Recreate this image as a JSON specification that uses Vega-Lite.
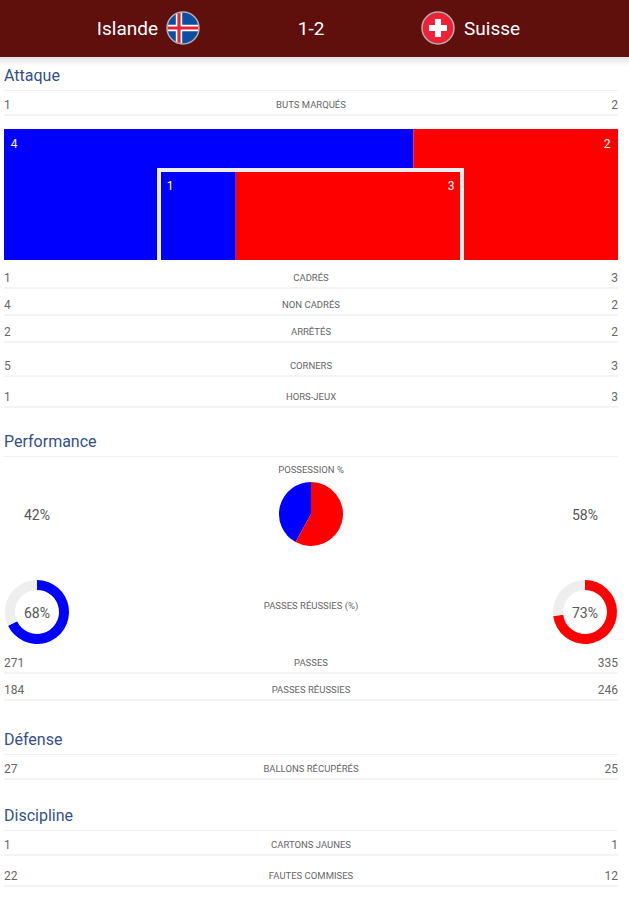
{
  "$schema": "https://vega.github.io/schema/vega-lite/v6.json",
  "autosize": {"type": "fit", "contains": "padding"},
  "padding": 0,
  "width": 629,
  "height": 898,
  "background": "white",
  "config": {
    "axis": {"disable": true},
    "view": {"stroke": null},
    "text": {"font": "Roboto", "dy": 1}
  },
  "datasets": {
    "stats": [
      {"ordre": 5, "stat": "BUTS MARQUÉS", "Islande": "1", "Suisse": "2"},
      {"ordre": 12, "stat": "CADRÉS", "Islande": "1", "Suisse": "3"},
      {"ordre": 13, "stat": "NON CADRÉS", "Islande": "4", "Suisse": "2"},
      {"ordre": 14, "stat": "ARRÊTÉS", "Islande": "2", "Suisse": "2"},
      {"ordre": 15, "stat": "CORNERS", "Islande": "5", "Suisse": "3"},
      {"ordre": 16, "stat": "HORS-JEUX", "Islande": "1", "Suisse": "3"},
      {"ordre": 22, "stat": "PASSES", "Islande": "271", "Suisse": "335"},
      {"ordre": 23, "stat": "PASSES RÉUSSIES", "Islande": "184", "Suisse": "246"},
      {"ordre": 25, "stat": "BALLONS RÉCUPÉRÉS", "Islande": "27", "Suisse": "25"},
      {"ordre": 27, "stat": "CARTONS JAUNES", "Islande": "1", "Suisse": "1"},
      {"ordre": 28, "stat": "FAUTES COMMISES", "Islande": "22", "Suisse": "12"}
    ],
    "sections": [
      {"ordre": 4, "section": "Attaque"},
      {"ordre": 17, "section": "Performance"},
      {"ordre": 24, "section": "Défense"},
      {"ordre": 26, "section": "Discipline"}
    ],
    "flag_parts": [
      {"team": "Islande", "part": "is_disque"},
      {"team": "Islande", "part": "is_blanc"},
      {"team": "Islande", "part": "is_rouge"},
      {"team": "Suisse", "part": "ch_disque"},
      {"team": "Suisse", "part": "ch_croix"}
    ],
    "tirs": [
      {"team": "Islande", "tirs": 4},
      {"team": "Suisse", "tirs": 2}
    ],
    "cadres": [
      {"team": "Islande", "tirs": 1},
      {"team": "Suisse", "tirs": 3}
    ],
    "possession": [
      {"serie": "Islande", "pct": 42},
      {"serie": "Suisse", "pct": 58}
    ],
    "passes_is": [
      {"serie": "Islande", "pct": 68},
      {"serie": "manqué", "pct": 32}
    ],
    "passes_ch": [
      {"serie": "Suisse", "pct": 73},
      {"serie": "manqué", "pct": 27}
    ],
    "pourcentages": [
      {"ordre": 19, "team": "Islande", "label": "42%"},
      {"ordre": 19, "team": "Suisse", "label": "58%"},
      {"ordre": 21, "team": "Islande", "label": "68%"},
      {"ordre": 21, "team": "Suisse", "label": "73%"}
    ],
    "titres_graphiques": [
      {"ordre": 18, "label": "POSSESSION %"},
      {"ordre": 20, "label": "PASSES RÉUSSIES (%)"}
    ]
  },
  "resolve": {"scale": {"x": "independent"}},
  "layer": [
    {
      "data": {"values": [{"zone": "ombre"}]},
      "mark": {
        "type": "rect",
        "fill": {
          "gradient": "linear", "x1": 0, "y1": 0, "x2": 0, "y2": 1,
          "stops": [{"offset": 0, "color": "#e2e2e2"}, {"offset": 1, "color": "#ffffff"}]
        }
      },
      "encoding": {
        "x": {"datum": 0, "type": "quantitative", "scale": {"domain": [0, 1], "range": [0, 629]}},
        "x2": {"datum": 1},
        "y": {
          "datum": 2,
          "type": "quantitative",
          "scale": {
            "domain": [0, 1, 2, 3, 4, 5, 6, 7, 8, 9, 10, 11, 12, 13, 14, 15, 16, 17, 18, 19, 20, 21, 22, 23, 24, 25, 26, 27, 28, 29],
            "range": [0, 28, 57, 66, 75, 104, 129, 143, 168, 172, 185, 260, 277, 304, 331, 365, 396, 441, 469, 514, 605, 612, 662, 689, 739, 768, 815, 844, 875, 898]
          }
        },
        "y2": {"datum": 3}
      }
    },
    {
      "data": {"values": [{"zone": "en-tête"}]},
      "mark": {"type": "rect", "fill": "#5f0f0c"},
      "encoding": {
        "x": {"datum": 0, "type": "quantitative", "scale": {"domain": [0, 1], "range": [0, 629]}},
        "x2": {"datum": 1},
        "y": {"datum": 0, "type": "quantitative"},
        "y2": {"datum": 2}
      }
    },
    {
      "data": {"name": "flag_parts"},
      "mark": {"type": "point", "filled": true, "opacity": 1, "size": 1024, "strokeWidth": 0},
      "encoding": {
        "x": {"field": "team", "type": "nominal", "scale": {"type": "point", "padding": 0, "domain": ["Islande", "Suisse"], "range": [183, 438]}},
        "y": {"datum": 1, "type": "quantitative"},
        "fill": {
          "field": "part",
          "type": "nominal",
          "legend": null,
          "scale": {
            "domain": ["is_disque", "is_blanc", "is_rouge", "ch_disque", "ch_croix"],
            "range": ["#0b4ea2", "#ffffff", "#e3233a", "#ed2236", "#ffffff"]
          }
        },
        "shape": {
          "field": "part",
          "type": "nominal",
          "legend": null,
          "scale": {
            "domain": ["is_disque", "is_blanc", "is_rouge", "ch_disque", "ch_croix"],
            "range": [
              "circle",
              "M-.45,-.89L-.05,-1L-.05,-.2L.98,-.2L.98,.2L-.05,.2L-.05,1L-.45,.89L-.45,.2L-.98,.2L-.98,-.2L-.45,-.2Z",
              "M-.35,-.94L-.15,-.99L-.15,-.1L.99,-.1L.99,.1L-.15,.1L-.15,.99L-.35,.94L-.35,.1L-.99,.1L-.99,-.1L-.35,-.1Z",
              "circle",
              "M-.19,-.56L.19,-.56L.19,-.19L.56,-.19L.56,.19L.19,.19L.19,.56L-.19,.56L-.19,.19L-.56,.19L-.56,-.19L-.19,-.19Z"
            ]
          }
        }
      }
    },
    {
      "data": {"values": [{"team": "Islande"}, {"team": "Suisse"}]},
      "mark": {"type": "point", "filled": false, "opacity": 1, "shape": "circle", "size": 1024, "stroke": "#b0b0b0", "strokeWidth": 1.5},
      "encoding": {
        "x": {"field": "team", "type": "nominal", "scale": {"type": "point", "padding": 0, "domain": ["Islande", "Suisse"], "range": [183, 438]}},
        "y": {"datum": 1, "type": "quantitative"}
      }
    },
    {
      "data": {"values": [{"ordre": 1, "cote": 0, "label": "Islande"}]},
      "mark": {"type": "text", "align": "right", "fontSize": 19, "color": "#ffffff"},
      "encoding": {
        "x": {"field": "cote", "type": "quantitative", "scale": {"domain": [0, 1], "range": [158, 464]}},
        "y": {"field": "ordre", "type": "quantitative"},
        "text": {"field": "label"}
      }
    },
    {
      "data": {"values": [{"ordre": 1, "cote": 0.5, "label": "1-2"}]},
      "mark": {"type": "text", "align": "center", "fontSize": 19, "color": "#ffffff"},
      "encoding": {
        "x": {"field": "cote", "type": "quantitative", "scale": {"domain": [0, 1], "range": [158, 464]}},
        "y": {"field": "ordre", "type": "quantitative"},
        "text": {"field": "label"}
      }
    },
    {
      "data": {"values": [{"ordre": 1, "cote": 1, "label": "Suisse"}]},
      "mark": {"type": "text", "align": "left", "fontSize": 19, "color": "#ffffff"},
      "encoding": {
        "x": {"field": "cote", "type": "quantitative", "scale": {"domain": [0, 1], "range": [158, 464]}},
        "y": {"field": "ordre", "type": "quantitative"},
        "text": {"field": "label"}
      }
    },
    {
      "data": {"name": "sections"},
      "mark": {"type": "text", "align": "left", "fontSize": 16, "color": "#34508a"},
      "encoding": {
        "x": {"datum": 0, "type": "quantitative", "scale": {"domain": [0, 1], "range": [4, 618]}},
        "y": {"field": "ordre", "type": "quantitative"},
        "text": {"field": "section"}
      }
    },
    {
      "data": {"name": "sections"},
      "mark": {"type": "rule", "stroke": "#f0f0f0", "strokeWidth": 1, "yOffset": 15.5},
      "encoding": {
        "x": {"datum": 0, "type": "quantitative", "scale": {"domain": [0, 1], "range": [4, 618]}},
        "x2": {"datum": 1},
        "y": {"field": "ordre", "type": "quantitative"}
      }
    },
    {
      "data": {"name": "stats"},
      "mark": {"type": "rule", "stroke": "#e8e8e8", "strokeWidth": 1, "yOffset": 11},
      "encoding": {
        "x": {"datum": 0, "type": "quantitative", "scale": {"domain": [0, 1], "range": [4, 618]}},
        "x2": {"datum": 1},
        "y": {"field": "ordre", "type": "quantitative"}
      }
    },
    {
      "data": {"name": "stats"},
      "mark": {"type": "text", "align": "left", "fontSize": 12, "color": "#666666"},
      "encoding": {
        "x": {"datum": 0, "type": "quantitative", "scale": {"domain": [0, 1], "range": [4, 618]}},
        "y": {"field": "ordre", "type": "quantitative"},
        "text": {"field": "Islande"}
      }
    },
    {
      "data": {"name": "stats"},
      "mark": {"type": "text", "align": "center", "fontSize": 9.5, "color": "#666666"},
      "encoding": {
        "x": {"datum": 0.5, "type": "quantitative", "scale": {"domain": [0, 1], "range": [4, 618]}},
        "y": {"field": "ordre", "type": "quantitative"},
        "text": {"field": "stat"}
      }
    },
    {
      "data": {"name": "stats"},
      "mark": {"type": "text", "align": "right", "fontSize": 12, "color": "#666666"},
      "encoding": {
        "x": {"datum": 1, "type": "quantitative", "scale": {"domain": [0, 1], "range": [4, 618]}},
        "y": {"field": "ordre", "type": "quantitative"},
        "text": {"field": "Suisse"}
      }
    },
    {
      "data": {"name": "tirs"},
      "transform": [{"stack": "tirs", "groupby": [], "sort": [{"field": "team"}], "as": ["debut", "fin"]}],
      "mark": {"type": "rect"},
      "encoding": {
        "x": {"field": "debut", "type": "quantitative", "scale": {"domain": [0, 6], "range": [4, 618]}},
        "x2": {"field": "fin"},
        "y": {"datum": 6, "type": "quantitative"},
        "y2": {"datum": 11},
        "color": {"field": "team", "type": "nominal", "legend": null, "scale": {"domain": ["Islande", "Suisse", "manqué"], "range": ["#0000ff", "#ff0000", "#eeeeee"]}}
      }
    },
    {
      "data": {"values": [{"zone": "cadre"}]},
      "mark": {"type": "rect", "fill": "#eeeeee"},
      "encoding": {
        "x": {"datum": 0, "type": "quantitative", "scale": {"domain": [0, 1], "range": [157, 464]}},
        "x2": {"datum": 1},
        "y": {"datum": 8, "type": "quantitative"},
        "y2": {"datum": 11}
      }
    },
    {
      "data": {"name": "cadres"},
      "transform": [{"stack": "tirs", "groupby": [], "sort": [{"field": "team"}], "as": ["debut", "fin"]}],
      "mark": {"type": "rect"},
      "encoding": {
        "x": {"field": "debut", "type": "quantitative", "scale": {"domain": [0, 4], "range": [161, 460]}},
        "x2": {"field": "fin"},
        "y": {"datum": 9, "type": "quantitative"},
        "y2": {"datum": 11},
        "color": {"field": "team", "type": "nominal", "legend": null, "scale": {"domain": ["Islande", "Suisse", "manqué"], "range": ["#0000ff", "#ff0000", "#eeeeee"]}}
      }
    },
    {
      "data": {"name": "tirs"},
      "mark": {"type": "text", "align": "center", "fontSize": 12, "color": "#ffffff"},
      "encoding": {
        "x": {"field": "team", "type": "nominal", "scale": {"type": "point", "padding": 0, "domain": ["Islande", "Suisse"], "range": [14, 607]}},
        "y": {"datum": 7, "type": "quantitative"},
        "text": {"field": "tirs"}
      }
    },
    {
      "data": {"name": "cadres"},
      "mark": {"type": "text", "align": "center", "fontSize": 12, "color": "#ffffff"},
      "encoding": {
        "x": {"field": "team", "type": "nominal", "scale": {"type": "point", "padding": 0, "domain": ["Islande", "Suisse"], "range": [170, 451]}},
        "y": {"datum": 10, "type": "quantitative"},
        "text": {"field": "tirs"}
      }
    },
    {
      "data": {"name": "titres_graphiques"},
      "mark": {"type": "text", "align": "center", "fontSize": 9.5, "color": "#666666"},
      "encoding": {
        "x": {"datum": 0.5, "type": "quantitative", "scale": {"domain": [0, 1], "range": [4, 618]}},
        "y": {"field": "ordre", "type": "quantitative"},
        "text": {"field": "label"}
      }
    },
    {
      "data": {"name": "possession"},
      "transform": [{"stack": "pct", "groupby": [], "sort": [{"field": "pct", "order": "descending"}], "as": ["debut", "fin"]}],
      "mark": {"type": "arc", "radius": 32},
      "encoding": {
        "x": {"datum": 0.5, "type": "quantitative", "scale": {"domain": [0, 1], "range": [37, 585]}},
        "y": {"datum": 19, "type": "quantitative"},
        "theta": {"field": "debut", "type": "quantitative", "scale": {"domain": [0, 100]}},
        "theta2": {"field": "fin"},
        "color": {"field": "serie", "type": "nominal", "legend": null, "scale": {"domain": ["Islande", "Suisse", "manqué"], "range": ["#0000ff", "#ff0000", "#eeeeee"]}}
      }
    },
    {
      "data": {"name": "passes_is"},
      "transform": [{"stack": "pct", "groupby": [], "sort": [{"field": "pct", "order": "descending"}], "as": ["debut", "fin"]}],
      "mark": {"type": "arc", "radius": 32, "radius2": 22},
      "encoding": {
        "x": {"datum": 0, "type": "quantitative", "scale": {"domain": [0, 1], "range": [37, 585]}},
        "y": {"datum": 21, "type": "quantitative"},
        "theta": {"field": "debut", "type": "quantitative", "scale": {"domain": [0, 100]}},
        "theta2": {"field": "fin"},
        "color": {"field": "serie", "type": "nominal", "legend": null, "scale": {"domain": ["Islande", "Suisse", "manqué"], "range": ["#0000ff", "#ff0000", "#eeeeee"]}}
      }
    },
    {
      "data": {"name": "passes_ch"},
      "transform": [{"stack": "pct", "groupby": [], "sort": [{"field": "pct", "order": "descending"}], "as": ["debut", "fin"]}],
      "mark": {"type": "arc", "radius": 32, "radius2": 22},
      "encoding": {
        "x": {"datum": 1, "type": "quantitative", "scale": {"domain": [0, 1], "range": [37, 585]}},
        "y": {"datum": 21, "type": "quantitative"},
        "theta": {"field": "debut", "type": "quantitative", "scale": {"domain": [0, 100]}},
        "theta2": {"field": "fin"},
        "color": {"field": "serie", "type": "nominal", "legend": null, "scale": {"domain": ["Islande", "Suisse", "manqué"], "range": ["#0000ff", "#ff0000", "#eeeeee"]}}
      }
    },
    {
      "data": {"name": "pourcentages"},
      "mark": {"type": "text", "align": "center", "fontSize": 14, "dy": 1.5, "color": "#555555"},
      "encoding": {
        "x": {"field": "team", "type": "nominal", "scale": {"type": "point", "padding": 0, "domain": ["Islande", "Suisse"], "range": [37, 585]}},
        "y": {"field": "ordre", "type": "quantitative"},
        "text": {"field": "label"}
      }
    }
  ]
}
